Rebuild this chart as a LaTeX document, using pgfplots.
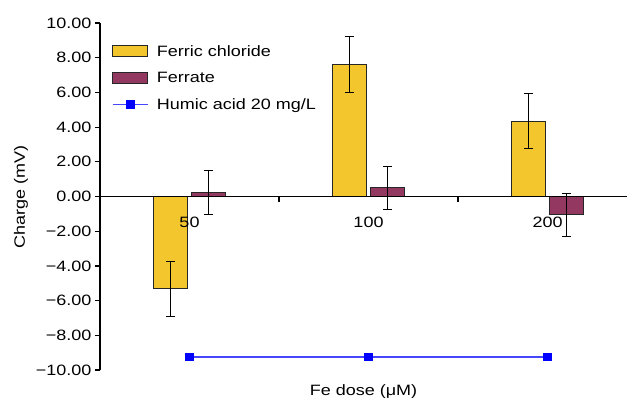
\documentclass[border=0pt]{standalone}
\usepackage{pgfplots}
\pgfplotsset{compat=1.18}
\usepackage{fontspec}
\setmainfont[FakeStretch=1.2]{Liberation Sans}
\definecolor{ferric}{RGB}{244,198,46}
\definecolor{ferrate}{RGB}{147,56,96}
\definecolor{humicline}{RGB}{70,70,255}
\pgfplotsset{
  barleg/.style={legend image code/.code={\draw[##1] (0pt,-5.5pt) rectangle (35pt,5.5pt); \path (41pt,0pt);}},
  lineleg/.style={legend image code/.code={\draw[##1, mark repeat=2, mark phase=2] plot coordinates {(0pt,0pt) (17.5pt,0pt) (35pt,0pt)}; \path (41pt,0pt);}},
}
\begin{document}
\begin{tikzpicture}
\begin{axis}[
  scale only axis,
  width=527pt, height=347pt,
  xmin=-0.5, xmax=2.444,
  ymin=-10, ymax=10,
  axis on top,
  axis x line*=middle,
  axis y line*=left,
  axis line style={black, line width=1.2pt},
  tick align=outside,
  xtick={0,1,2},
  xticklabels={50,100,200},
  major x tick style={draw=none},
  minor xtick={-0.5,0.5,1.5,2.5},
  minor x tick style={black, line width=1.2pt},
  minor tick length=5pt,
  xticklabel style={yshift=-12pt},
  ytick={-10,-8,-6,-4,-2,0,2,4,6,8,10},
  yticklabels={−10.00,−8.00,−6.00,−4.00,−2.00,0.00,2.00,4.00,6.00,8.00,10.00},
  y tick style={black, line width=1.2pt},
  major tick length=5pt,
  tick label style={font=\fontsize{15}{18}\selectfont},
  every axis y label/.style={at={(axis description cs:-0.150,0.5)}, rotate=90, anchor=center},
  every axis x label/.style={at={(axis description cs:0.5,-0.061)}, anchor=center},
  ylabel={\fontsize{15}{18}\selectfont Charge (mV)},
  xlabel={\fontsize{15}{18}\selectfont Fe dose (μM)},
  legend style={draw=none, fill=none, anchor=north west, at={(axis description cs:0,1)},
    xshift=12pt, yshift=-20pt, font=\fontsize{15}{18}\selectfont,
    row sep=10.5pt, inner sep=0pt},
  legend cell align=left,
  clip=false,
]
\addplot[ybar, bar width=34pt, bar shift=0pt, fill=ferric, draw=black!85, line width=1pt, barleg,
  error bars/.cd, y dir=both, y explicit,
  error bar style={black, line width=1pt},
  error mark options={rotate=90, mark size=4.5pt, black, line width=1pt}]
  coordinates {(-0.106,-5.32) +- (0,1.58) (0.894,7.62) +- (0,1.6) (1.894,4.33) +- (0,1.58)};
\addlegendentry{Ferric chloride}
\addplot[ybar, bar width=34pt, bar shift=0pt, fill=ferrate, draw=black!85, line width=1pt, barleg,
  error bars/.cd, y dir=both, y explicit,
  error bar style={black, line width=1pt},
  error mark options={rotate=90, mark size=4.5pt, black, line width=1pt}]
  coordinates {(0.106,0.23) +- (0,1.24) (1.106,0.50) +- (0,1.25) (2.106,-1.04) +- (0,1.24)};
\addlegendentry{Ferrate}
\addplot[sharp plot, color=humicline, line width=1.6pt, mark=square*,
  mark options={fill=blue, draw=blue, line width=0pt}, mark size=3.8pt, lineleg]
  coordinates {(0,-9.26) (1,-9.26) (2,-9.26)};
\addlegendentry{Humic acid 20 mg/L}
\end{axis}
\pgfresetboundingbox
\path[use as bounding box] (-100pt,-27pt) rectangle (527pt,370pt);
\end{tikzpicture}
\end{document}
